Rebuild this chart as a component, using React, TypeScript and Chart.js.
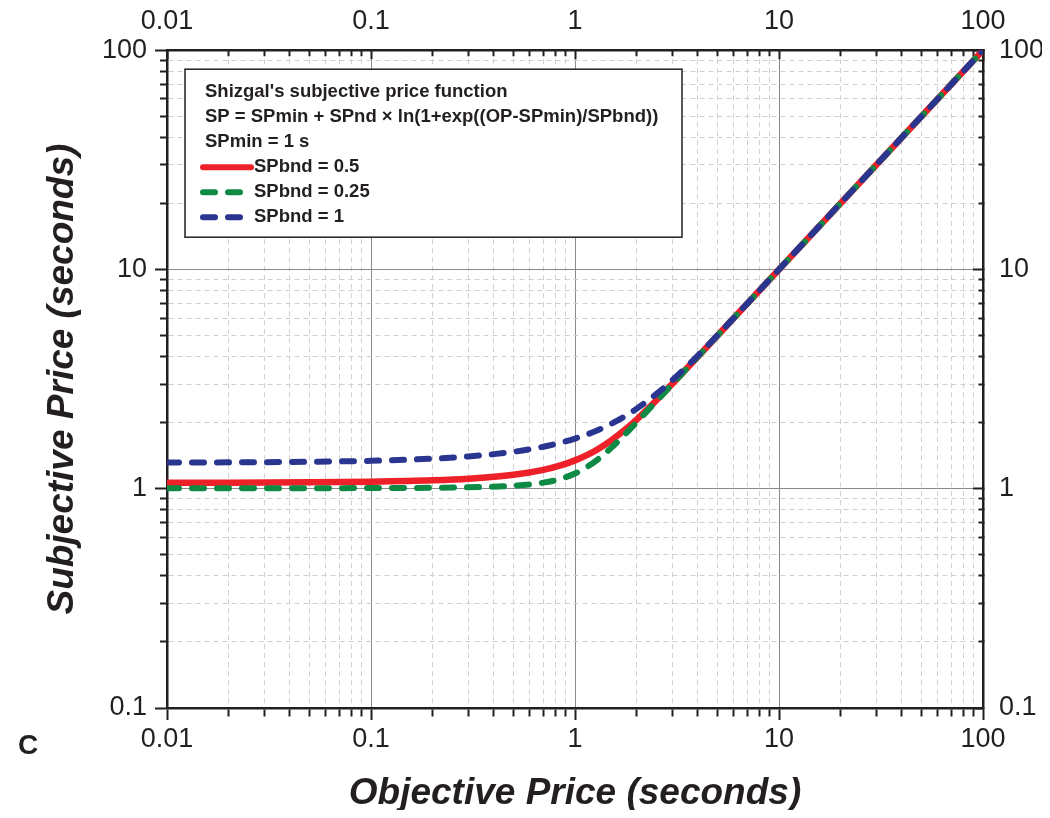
import React, { useEffect, useRef } from "react";
import { Chart, registerables } from "chart.js";

Chart.register(...registerables);

// ---- data ----
const OBJECTIVE_PRICE = [0.01, 0.02, 0.05, 0.1, 0.2, 0.3, 0.5, 0.7, 0.85, 1, 1.15, 1.3, 1.5, 1.75, 2, 2.5, 3, 4, 5, 7, 10, 20, 50, 100];
const SP_BND_05 = [1.065, 1.066, 1.07, 1.077, 1.092, 1.11, 1.157, 1.219, 1.277, 1.347, 1.427, 1.519, 1.657, 1.851, 2.063, 2.524, 3.009, 4.001, 5.0, 7.0, 10, 20, 50, 100];
const SP_BND_025 = [1.005, 1.005, 1.006, 1.007, 1.01, 1.015, 1.032, 1.066, 1.109, 1.173, 1.259, 1.366, 1.532, 1.762, 2.005, 2.501, 3.0, 4.0, 5.0, 7.0, 10, 20, 50, 100];
const SP_BND_1 = [1.316, 1.319, 1.327, 1.341, 1.371, 1.403, 1.474, 1.554, 1.621, 1.693, 1.771, 1.854, 1.974, 2.137, 2.313, 2.701, 3.127, 4.049, 5.018, 7.002, 10.0, 20, 50, 100];

const SERIES_LABELS = ["SPbnd = 0.5", "SPbnd = 0.25", "SPbnd = 1"];
const LEGEND_HEADER = [
  "Shizgal's subjective price function",
  "SP = SPmin + SPnd \u00d7 ln(1+exp((OP-SPmin)/SPbnd))",
  "SPmin = 1 s",
];
const X_DECADES = [0.01, 0.1, 1, 10];
const Y_DECADES = [0.1, 1, 10];
const X_RANGE = [0.01, 100];
const Y_RANGE = [0.1, 100];
const X_TITLE = "Objective Price (seconds)";
const Y_TITLE = "Subjective Price (seconds)";
const PANEL_LABEL = "C";

const INK = "#231f20";
const COLORS = ["#ee2128", "#0f8a45", "#2a3590"];

const isMajor = (v: number) => Math.abs(Math.log10(v) - Math.round(Math.log10(v))) < 1e-9;

const buildTicks = (decades: number[], top: number) => {
  const vals: number[] = [];
  decades.forEach((d) => {
    for (let k = 1; k <= 9; k++) vals.push(parseFloat((d * k).toPrecision(6)));
  });
  vals.push(top);
  return vals;
};
const X_TICKS = buildTicks(X_DECADES, X_RANGE[1]);
const Y_TICKS = buildTicks(Y_DECADES, Y_RANGE[1]);

const FONT = "'Liberation Sans', Arial, sans-serif";

const legendPlugin = {
  id: "boxLegend",
  afterDraw(chart: any) {
    const { ctx, chartArea } = chart;
    const left = chartArea.left + 18;
    const top = chartArea.top + 19;
    const w = 497;
    const h = 168;
    ctx.save();
    ctx.fillStyle = "#ffffff";
    ctx.fillRect(left, top, w, h);
    ctx.strokeStyle = INK;
    ctx.lineWidth = 1.5;
    ctx.strokeRect(left, top, w, h);
    ctx.fillStyle = INK;
    ctx.font = `bold 18.5px ${FONT}`;
    ctx.textBaseline = "middle";
    ctx.textAlign = "left";
    const rowY = (i: number) => top + 23 + i * 25;
    LEGEND_HEADER.forEach((t, i) => ctx.fillText(t, left + 20, rowY(i)));
    chart.data.datasets.forEach((ds: any, i: number) => {
      const y = rowY(3 + i);
      ctx.save();
      ctx.strokeStyle = ds.borderColor;
      ctx.lineWidth = 6;
      ctx.lineCap = "round";
      ctx.setLineDash(ds.borderDash || []);
      ctx.beginPath();
      ctx.moveTo(left + 18, y);
      ctx.lineTo(left + 66, y);
      ctx.stroke();
      ctx.restore();
      ctx.fillStyle = INK;
      ctx.fillText(ds.label, left + 69, y);
    });
    // panel label
    ctx.font = `bold 28px ${FONT}`;
    ctx.textAlign = "left";
    ctx.fillText(PANEL_LABEL, 10, 738);
    ctx.restore();
  },
};

const gridColor = (c: any) => (c.tick && isMajor(c.tick.value) ? "#8a8a8a" : "#cfcfcf");
const gridDash = (c: any) => (c.tick && isMajor(c.tick.value) ? [] : [5, 4]);

export default function App() {
  const ref = useRef<HTMLCanvasElement>(null);
  useEffect(() => {
    if (!ref.current) return;
    const mk = (ys: number[]) => OBJECTIVE_PRICE.map((x, i) => ({ x, y: ys[i] }));
    const tickFont = { family: FONT, size: 27 };
    const titleFont = { family: FONT, size: 37, weight: "bold" as const, style: "italic" as const, lineHeight: 0.72 };
    const labelCb = (v: any) => (isMajor(Number(v)) ? String(Number(v)) : "");
    const setTicks = (vals: number[]) => (scale: any) => {
      scale.ticks = vals.map((value) => ({ value, major: isMajor(value) }));
    };
    const chart = new Chart(ref.current, {
      type: "line",
      data: {
        datasets: [
          { label: SERIES_LABELS[0], data: mk(SP_BND_05), borderColor: COLORS[0], borderWidth: 6.5, borderCapStyle: "round", pointRadius: 0, cubicInterpolationMode: "monotone", order: 2, fill: false },
          { label: SERIES_LABELS[1], data: mk(SP_BND_025), borderColor: COLORS[1], borderWidth: 6, borderCapStyle: "round", borderDash: [12, 13], pointRadius: 0, cubicInterpolationMode: "monotone", order: 1, fill: false },
          { label: SERIES_LABELS[2], data: mk(SP_BND_1), borderColor: COLORS[2], borderWidth: 6, borderCapStyle: "round", borderDash: [12, 13], pointRadius: 0, cubicInterpolationMode: "monotone", order: 0, fill: false },
        ] as any,
      },
      options: {
        animation: false,
        responsive: false,
        events: [],
        layout: { padding: 0, autoPadding: false } as any,
        plugins: { legend: { display: false }, tooltip: { enabled: false } },
        scales: {
          x: {
            type: "logarithmic",
            position: "bottom",
            min: X_RANGE[0],
            max: X_RANGE[1],
            afterBuildTicks: setTicks(X_TICKS),
            afterFit: (s: any) => { s.height = 110; },
            ticks: { autoSkip: false, maxRotation: 0, minRotation: 0, padding: 3, color: INK, font: tickFont, callback: labelCb },
            grid: { color: gridColor, lineWidth: 1, tickLength: 12, tickColor: INK, tickWidth: 2, tickBorderDash: (c: any) => (c.tick && isMajor(c.tick.value) ? [] : [7, 100]) } as any,
            border: { color: INK, width: 2.5, dash: gridDash } as any,
            title: { display: true, text: X_TITLE, color: INK, font: titleFont, padding: { top: 0, bottom: 11 } },
          },
          x2: {
            type: "logarithmic",
            position: "top",
            min: X_RANGE[0],
            max: X_RANGE[1],
            afterBuildTicks: setTicks(X_TICKS),
            afterFit: (s: any) => { s.height = 42; },
            ticks: { autoSkip: false, maxRotation: 0, minRotation: 0, padding: 21, color: INK, font: tickFont, callback: labelCb },
            grid: { drawOnChartArea: false, tickLength: -9, tickColor: INK, tickWidth: 2, tickBorderDash: (c: any) => (c.tick && isMajor(c.tick.value) ? [] : [0, 3, 6, 100]) } as any,
            border: { color: INK, width: 2.5 },
          },
          y: {
            type: "logarithmic",
            position: "left",
            min: Y_RANGE[0],
            max: Y_RANGE[1],
            afterBuildTicks: setTicks(Y_TICKS),
            afterFit: (s: any) => { s.width = 159; },
            ticks: { autoSkip: false, padding: 8, color: INK, font: tickFont, callback: labelCb },
            grid: { color: gridColor, lineWidth: 1, tickLength: 12, tickColor: INK, tickWidth: 2, tickBorderDash: (c: any) => (c.tick && isMajor(c.tick.value) ? [] : [0, 5, 7, 100]) } as any,
            border: { color: INK, width: 2.5, dash: gridDash } as any,
            title: { display: true, text: Y_TITLE, color: INK, font: titleFont, padding: { top: 41, bottom: 0 } },
          },
          y2: {
            type: "logarithmic",
            position: "right",
            min: Y_RANGE[0],
            max: Y_RANGE[1],
            afterBuildTicks: setTicks(Y_TICKS),
            afterFit: (s: any) => { s.width = 59; },
            ticks: { autoSkip: false, padding: 26, color: INK, font: tickFont, callback: labelCb },
            grid: { drawOnChartArea: false, tickLength: -10, tickColor: INK, tickWidth: 2, tickBorderDash: (c: any) => (c.tick && isMajor(c.tick.value) ? [] : [6, 100]) } as any,
            border: { color: INK, width: 2.5 },
          },
        },
      } as any,
      plugins: [legendPlugin],
    });
    return () => chart.destroy();
  }, []);
  return (
    <div style={{ width: 1034, height: 810, marginBottom: -8 }}>
      <canvas ref={ref} width={1034} height={810} style={{ display: "block" }} />
    </div>
  );
}
